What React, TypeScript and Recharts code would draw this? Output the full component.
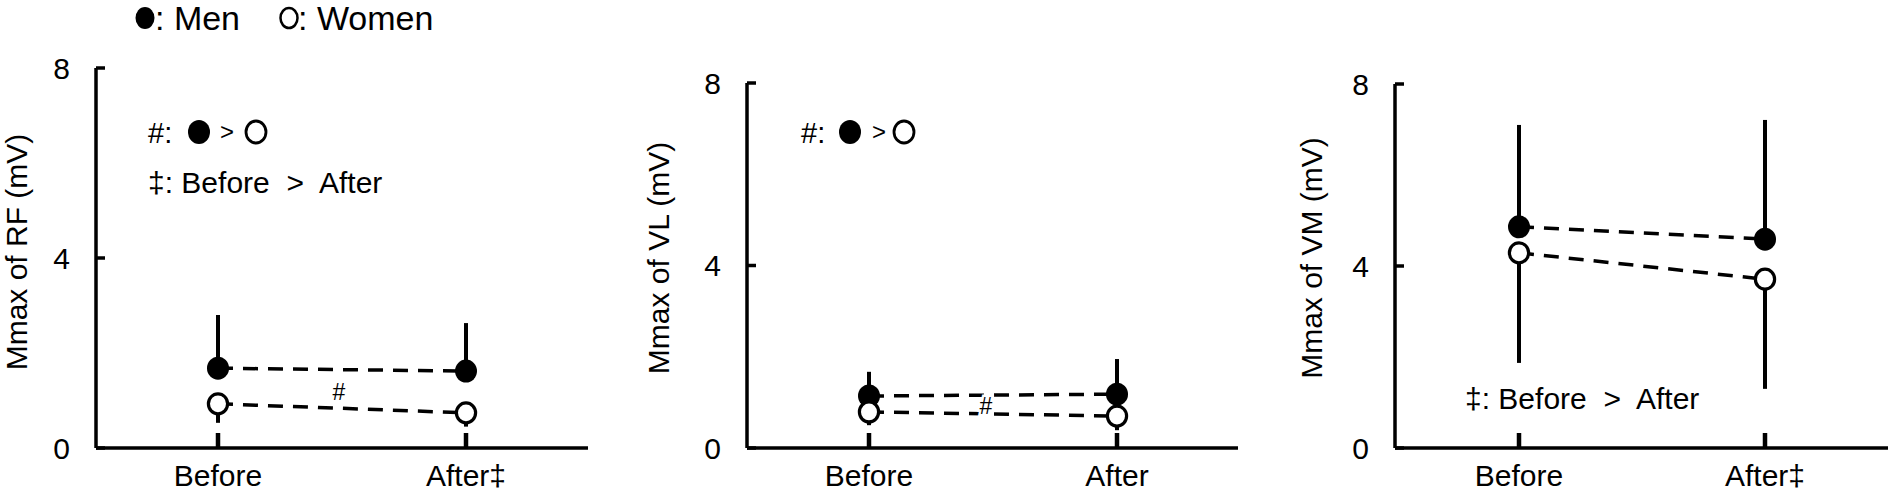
import React from 'react';
import { LineChart, Line, XAxis, YAxis, ErrorBar } from 'recharts';

const FONT = '"Liberation Sans", Arial, Helvetica, sans-serif';

// categories
const phases = ['Before', 'After'];

// tick labels per panel
const rfTickLabels = ['Before', 'After‡'];
const vlTickLabels = ['Before', 'After'];
const vmTickLabels = ['Before', 'After‡'];
const yTicks = [0, 4, 8];

// RF
const rfMen = [1.68, 1.62];
const rfMenSD = [1.12, 1.01];
const rfWomen = [0.93, 0.74];
const rfWomenSD = [0.4, 0.29];

// VL
const vlMen = [1.14, 1.18];
const vlMenSD = [0.53, 0.77];
const vlWomen = [0.79, 0.7];
const vlWomenSD = [0.29, 0.31];

// VM
const vmMen = [4.86, 4.59];
const vmMenSD = [2.24, 2.62];
const vmWomen = [4.29, 3.71];
const vmWomenSD = [2.42, 2.41];

const build = (men: number[], menSD: number[], women: number[], womenSD: number[]) =>
  phases.map((p, i) => ({
    phase: p,
    men: men[i],
    menErr: [0, menSD[i]],
    women: women[i],
    womenErr: [womenSD[i], 0],
  }));

const rfData = build(rfMen, rfMenSD, rfWomen, rfWomenSD);
const vlData = build(vlMen, vlMenSD, vlWomen, vlWomenSD);
const vmData = build(vmMen, vmMenSD, vmWomen, vmWomenSD);

const MenDot = (props: any) => {
  const { cx, cy, index } = props;
  if (cx == null || cy == null) return null;
  return <ellipse key={`m-${index}`} cx={cx} cy={cy} rx={11} ry={11.5} fill="#000" />;
};
const WomenDot = (props: any) => {
  const { cx, cy, index } = props;
  if (cx == null || cy == null) return null;
  return (
    <ellipse key={`w-${index}`} cx={cx} cy={cy} rx={9.6} ry={10} fill="#fff" stroke="#000" strokeWidth={3.2} />
  );
};

type PanelProps = {
  data: any[];
  tickLabels: string[];
  left: number;
  width: number;
  marginLeft: number;
  marginTop: number;
  marginRight: number;
  padL: number;
  padR: number;
};

const Panel = ({ data, tickLabels, left, width, marginLeft, marginTop, marginRight, padL, padR }: PanelProps) => (
  <div style={{ position: 'absolute', left, top: 0 }}>
    <LineChart
      width={width}
      height={489}
      data={data}
      margin={{ top: marginTop, right: marginRight, bottom: 0, left: marginLeft }}
    >
      <XAxis
        dataKey="phase"
        interval={0}
        padding={{ left: padL, right: padR }}
        height={41}
        tickSize={-15}
        tickMargin={32}
        axisLine={{ stroke: '#000', strokeWidth: 3.5 }}
        tickLine={{ stroke: '#000', strokeWidth: 4.5 }}
        tick={{ fill: '#000', fontSize: 30, fontFamily: FONT }}
        tickFormatter={(_v: any, i: number) => tickLabels[i]}
      />
      <YAxis
        type="number"
        domain={[0, 8]}
        ticks={yTicks}
        width={60}
        tickSize={-9}
        tickMargin={35}
        axisLine={{ stroke: '#000', strokeWidth: 3.5 }}
        tickLine={{ stroke: '#000', strokeWidth: 3.5 }}
        tick={{ fill: '#000', fontSize: 30, fontFamily: FONT }}
      />
      <Line
        dataKey="men"
        type="linear"
        stroke="#000"
        strokeWidth={3.5}
        strokeDasharray="15 10"
        dot={MenDot}
        activeDot={false}
        isAnimationActive={false}
      >
        <ErrorBar dataKey="menErr" width={0} stroke="#000" strokeWidth={4} direction="y" />
      </Line>
      <Line
        dataKey="women"
        type="linear"
        stroke="#000"
        strokeWidth={3.5}
        strokeDasharray="15 10"
        dot={WomenDot}
        activeDot={false}
        isAnimationActive={false}
      >
        <ErrorBar dataKey="womenErr" width={0} stroke="#000" strokeWidth={4} direction="y" />
      </Line>
    </LineChart>
  </div>
);

const T = (p: any) => <text fontFamily={FONT} fill="#000" style={{ whiteSpace: 'pre' }} {...p} />;

export default function App() {
  return (
    <div style={{ position: 'absolute', left: 0, top: 0, width: 1890, height: 489, background: '#fff', overflow: 'hidden' }}>
      <Panel data={rfData} tickLabels={rfTickLabels} left={0} width={600} marginLeft={36} marginTop={68} marginRight={12} padL={122} padR={122} />
      <Panel data={vlData} tickLabels={vlTickLabels} left={640} width={600} marginLeft={47} marginTop={83} marginRight={2} padL={122} padR={121} />
      <Panel data={vmData} tickLabels={vmTickLabels} left={1290} width={600} marginLeft={45} marginTop={84} marginRight={2} padL={124} padR={123} />

      <svg width={1890} height={489} style={{ position: 'absolute', left: 0, top: 0, pointerEvents: 'none' }}>
        {/* legend */}
        <ellipse cx={145} cy={18} rx={9.5} ry={11} fill="#000" />
        <T x={155} y={30} fontSize={34}>: Men</T>
        <ellipse cx={289} cy={18} rx={8.5} ry={10} fill="#fff" stroke="#000" strokeWidth={2.5} />
        <T x={298} y={30} fontSize={34}>: Women</T>

        {/* y titles */}
        <T x={0} y={0} fontSize={30} textAnchor="middle" dominantBaseline="central" transform="translate(16,252) rotate(-90)">Mmax of RF (mV)</T>
        <T x={0} y={0} fontSize={30} textAnchor="middle" dominantBaseline="central" transform="translate(658,258) rotate(-90)">Mmax of VL (mV)</T>
        <T x={0} y={0} fontSize={30} textAnchor="middle" dominantBaseline="central" transform="translate(1311,258) rotate(-90)">Mmax of VM (mV)</T>

        {/* panel 1 annotations */}
        <T x={148} y={143} fontSize={29}>#:</T>
        <ellipse cx={199} cy={132} rx={11} ry={12} fill="#000" />
        <T x={227} y={140} fontSize={24} textAnchor="middle">&gt;</T>
        <ellipse cx={256} cy={132} rx={10} ry={11} fill="#fff" stroke="#000" strokeWidth={2.8} />
        <T x={148} y={193} fontSize={30}>{'‡: Before  >  After'}</T>
        <T x={339} y={400} fontSize={23} textAnchor="middle">#</T>

        {/* panel 2 annotations */}
        <T x={801} y={143} fontSize={29}>#:</T>
        <ellipse cx={850} cy={132} rx={11} ry={12} fill="#000" />
        <T x={879} y={140} fontSize={24} textAnchor="middle">&gt;</T>
        <ellipse cx={904} cy={132} rx={10} ry={11} fill="#fff" stroke="#000" strokeWidth={2.8} />
        <T x={986} y={414} fontSize={23} textAnchor="middle" stroke="#fff" strokeWidth={5} paintOrder="stroke">#</T>

        {/* panel 3 annotation */}
        <T x={1465} y={409} fontSize={30}>{'‡: Before  >  After'}</T>
      </svg>
    </div>
  );
}
